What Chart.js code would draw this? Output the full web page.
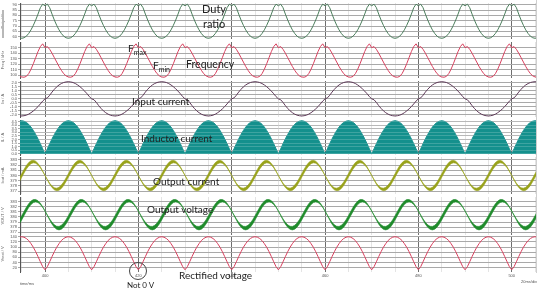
<!DOCTYPE html>
<html>
<head>
<meta charset="utf-8">
<script src="https://cdn.jsdelivr.net/npm/chart.js"></script>
<style>
body { margin: 0; background: #fff; }
#wrap { position: relative; width: 540px; height: 291px; overflow: hidden; background: #fff; }
#wrap canvas { position: absolute; left: 0; }
.note { position: absolute; font-family: Lato, "Open Sans", sans-serif; font-size: 10px; line-height: 12px; color: #222; white-space: nowrap; }
.note sub { font-size: 7px; vertical-align: -3px; }
.tiny { position: absolute; font-family: "Liberation Sans", Arial, sans-serif; font-size: 4px; color: #555; white-space: nowrap; }
</style>
</head>
<body>
<div id="wrap"></div>
<script>
// time axis (ms), one sample every 0.5 ms, waveforms given over one period starting at 400 ms
var timeTicks = [400, 420, 440, 460, 480, 500];
var sampleStep = 0.5;

// duty ratio / %  (10 ms period)
var dutyPct = [89.0, 90.5, 87.2, 81.2, 75.6, 70.7, 66.4, 63.0, 60.5, 59.0, 58.5, 59.0, 60.5, 63.0, 66.4, 70.7, 75.6, 81.2, 87.2, 90.5];
var dutyTicks = [60, 65, 70, 75, 80, 85, 90];

// switching frequency / kHz (10 ms period)
var freqKHz = [150, 152, 147, 140, 132, 124, 116, 109, 103, 99, 97, 96.5, 98, 103, 111, 121, 132, 143, 152, 157];
var freqTicks = [100, 110, 120, 130, 140, 150];

// input current / A (20 ms period)
var inputA = [0.0, 0.12, 0.45, 0.85, 1.2, 1.5, 1.74, 1.92, 2.05, 2.12, 2.15, 2.12, 2.05, 1.92, 1.74, 1.52, 1.26, 0.97, 0.64, 0.28,
              0.0, -0.12, -0.45, -0.85, -1.2, -1.5, -1.74, -1.92, -2.05, -2.12, -2.15, -2.12, -2.05, -1.92, -1.74, -1.52, -1.26, -0.97, -0.64, -0.28];
var inputTicks = [-2.0, -1.5, -1.0, -0.5, 0.0, 0.5, 1.0, 1.5, 2.0];

// inductor current peak envelope / A (10 ms period)
var inductorPeakA = [0, 0.72, 1.42, 2.09, 2.7, 3.25, 3.72, 4.1, 4.37, 4.54, 4.6, 4.54, 4.37, 4.1, 3.72, 3.25, 2.7, 2.09, 1.42, 0.72];
var inductorTicks = [0.0, 0.5, 1.0, 1.5, 2.0, 2.5, 3.0, 3.5, 4.0, 4.5];

// output current / mA: centre and half ripple band (10 ms period)
var outCurMid = [380.0, 379.17, 378.41, 377.82, 377.43, 377.3, 377.43, 377.82, 378.41, 379.17, 380.0, 380.83, 381.59, 382.18, 382.57, 382.7, 382.57, 382.18, 381.59, 380.83];
var outCurRipple = [0, 0.04, 0.1, 0.15, 0.2, 0.25, 0.29, 0.32, 0.34, 0.35, 0.35, 0.35, 0.34, 0.32, 0.29, 0.25, 0.2, 0.15, 0.1, 0.04];
var outCurTicks = [377, 378, 379, 380, 381, 382, 383];

// output voltage / V: centre and half ripple band (10 ms period)
var outVoltMid = [381.17, 380.33, 379.51, 378.78, 378.22, 377.88, 377.81, 377.99, 378.42, 379.05, 379.83, 380.67, 381.49, 382.22, 382.78, 383.12, 383.19, 383.01, 382.58, 381.95];
var outVoltRipple = [0, 0.05, 0.12, 0.18, 0.24, 0.3, 0.34, 0.38, 0.41, 0.42, 0.43, 0.42, 0.41, 0.38, 0.34, 0.3, 0.24, 0.18, 0.12, 0.05];
var outVoltTicks = [377, 378, 379, 380, 381, 382, 383];

// rectified voltage / V (10 ms period)
var rectV = [12, 24, 43, 63, 82, 99, 113, 125, 133, 138, 140, 138, 133, 125, 113, 99, 82, 63, 43, 24];
var rectTicks = [20, 40, 60, 80, 100, 120, 140];

var tMin = 394.64, tMax = 505.2;

function tile(period) {
  var pts = [];
  for (var t = 394.5; t <= 505.5; t += sampleStep) {
    var i = Math.round((t - 400) / sampleStep) % period.length;
    if (i < 0) i += period.length;
    pts.push({ x: t, y: period[i] });
  }
  return pts;
}
function addUp(a, b, sign) {
  return a.map(function(v, i) { return v + sign * b[i]; });
}

var wrap = document.getElementById('wrap');

function makePanel(cfg) {
  var last = !!cfg.last;
  var h = 4 + (cfg.bottom - cfg.top) + (last ? 9 : 4);
  var cv = document.createElement('canvas');
  cv.width = 540; cv.height = h;
  cv.style.top = (cfg.top - 4) + 'px';
  wrap.appendChild(cv);

  var scales = {
    x: {
      type: 'linear', min: tMin, max: tMax,
      afterBuildTicks: function(s) {
        var tk = [];
        for (var v = 395; v <= 505; v += 5) tk.push({ value: v });
        s.ticks = tk;
      },
      afterFit: function(s) { s.height = last ? 9 : 0; },
      grid: {
        drawTicks: false,
        color: function(c) { return ((c.tick.value - 400) % 20 === 0) ? '#6e6e6e' : '#e4e4e4'; }
      },
      border: { display: false },
      ticks: {
        display: last, padding: 1, autoSkip: false, maxRotation: 0, color: '#555',
        font: { size: 4, family: 'Liberation Sans' },
        callback: function(v) { return timeTicks.indexOf(v) >= 0 ? String(v) : ''; }
      }
    },
    y: {
      min: cfg.min, max: cfg.max,
      afterBuildTicks: function(s) { s.ticks = cfg.ticks.map(function(v) { return { value: v }; }); },
      afterFit: function(s) { s.width = 20; },
      grid: { color: '#a9a9a9', drawTicks: true, tickLength: 2 },
      border: { color: '#555' },
      title: { display: true, text: cfg.title, color: '#666', padding: 0, font: { size: 4, family: 'Liberation Sans' } },
      ticks: {
        padding: 1, autoSkip: false, color: '#555', font: { size: 4, family: 'Liberation Sans' },
        callback: function(v) { return cfg.digits ? v.toFixed(cfg.digits) : String(v); }
      }
    }
  };
  if (cfg.overGrid) {
    scales.y2 = {
      position: 'left', min: cfg.min, max: cfg.max, display: true,
      afterBuildTicks: function(s) { s.ticks = cfg.ticks.map(function(v) { return { value: v }; }); },
      afterFit: function(s) { s.width = 0; },
      grid: { color: 'rgba(255,255,255,0.18)', drawTicks: false, z: 1 },
      border: { display: false },
      ticks: { display: false }
    };
  }

  new Chart(cv, {
    type: 'line',
    data: { datasets: cfg.datasets },
    options: {
      responsive: false, animation: false,
      layout: { padding: { top: 4, bottom: last ? 0 : 4, left: 0, right: 4 } },
      plugins: { legend: { display: false }, tooltip: { enabled: false } },
      elements: { point: { radius: 0 }, line: { tension: 0, borderWidth: 1 } },
      scales: scales
    }
  });
}

makePanel({ top: 3, bottom: 39, min: 57.84, max: 91.6, ticks: dutyTicks, title: 'Duty / %',
  datasets: [{ data: tile(dutyPct), borderColor: '#4b7d5c' }] });

makePanel({ top: 42, bottom: 78, min: 95.1, max: 160.3, ticks: freqTicks, title: 'Freq / kHz',
  datasets: [{ data: tile(freqKHz), borderColor: '#d7405e' }] });

makePanel({ top: 81, bottom: 117, min: -2.28, max: 2.24, ticks: inputTicks, title: 'Iin / A', digits: 1,
  datasets: [{ data: tile(inputA), borderColor: '#5e3a58' }] });

makePanel({ top: 120, bottom: 155, min: -0.14, max: 4.7, ticks: inductorTicks, title: 'IL / A', digits: 1, overGrid: true,
  datasets: [{ data: tile(inductorPeakA), borderColor: '#14908d', backgroundColor: '#14908d', fill: 'origin' }] });

makePanel({ top: 157, bottom: 194, min: 376.42, max: 383.58, ticks: outCurTicks, title: 'Iout / mA',
  datasets: [
    { data: tile(addUp(outCurMid, outCurRipple, 1)), borderColor: '#98a21a', backgroundColor: '#98a21a', borderWidth: 0.6, fill: '+1' },
    { data: tile(addUp(outCurMid, outCurRipple, -1)), borderColor: '#98a21a', borderWidth: 0.6 }
  ] });

makePanel({ top: 197, bottom: 235, min: 376.47, max: 383.92, ticks: outVoltTicks, title: 'VOUT / V',
  datasets: [
    { data: tile(addUp(outVoltMid, outVoltRipple, 1)), borderColor: '#1f8b2b', backgroundColor: '#1f8b2b', borderWidth: 0.6, fill: '+1' },
    { data: tile(addUp(outVoltMid, outVoltRipple, -1)), borderColor: '#1f8b2b', borderWidth: 0.6 }
  ] });

makePanel({ top: 236, bottom: 272, min: 3.35, max: 142.7, ticks: rectTicks, title: 'Vrect / V', last: true,
  datasets: [{ data: tile(rectV), borderColor: '#d7405e' }] });

// notes on top of the plots
function note(html, x, y, cls, extra) {
  var d = document.createElement('div');
  d.className = cls || 'note';
  d.innerHTML = html;
  d.style.left = x + 'px';
  d.style.top = y + 'px';
  if (extra) d.style.cssText += extra;
  wrap.appendChild(d);
  return d;
}
note('Duty', 202, 3, 'note', 'font-size:11px;');
note('ratio', 203, 18, 'note', 'font-size:11px;');
note('Frequency', 186, 58, 'note', 'font-size:10.5px;');
note('F<sub>max</sub>', 128, 42);
note('F<sub>min</sub>', 153, 59);
note('Input current', 132, 95);
note('Inductor current', 141, 132);
note('Output current', 153, 175);
note('Output voltage', 147, 203);
note('Rectified voltage', 179, 269);
note('Not 0 V', 127, 279, 'note', 'font-size:8px;');
note('time/ms', 20, 281, 'tiny');
note('20ms/div', 521, 279, 'tiny');
note('', 128.5, 261.5, 'note', 'width:16px;height:16px;border:1px solid #444;border-radius:50%;');
note('', 2, 10, 'note', 'width:2px;height:28px;background:#b8b8b8;');
note('', 536, 0, 'note', 'width:1px;height:273px;background:#cfcfcf;');
</script>
</body>
</html>
